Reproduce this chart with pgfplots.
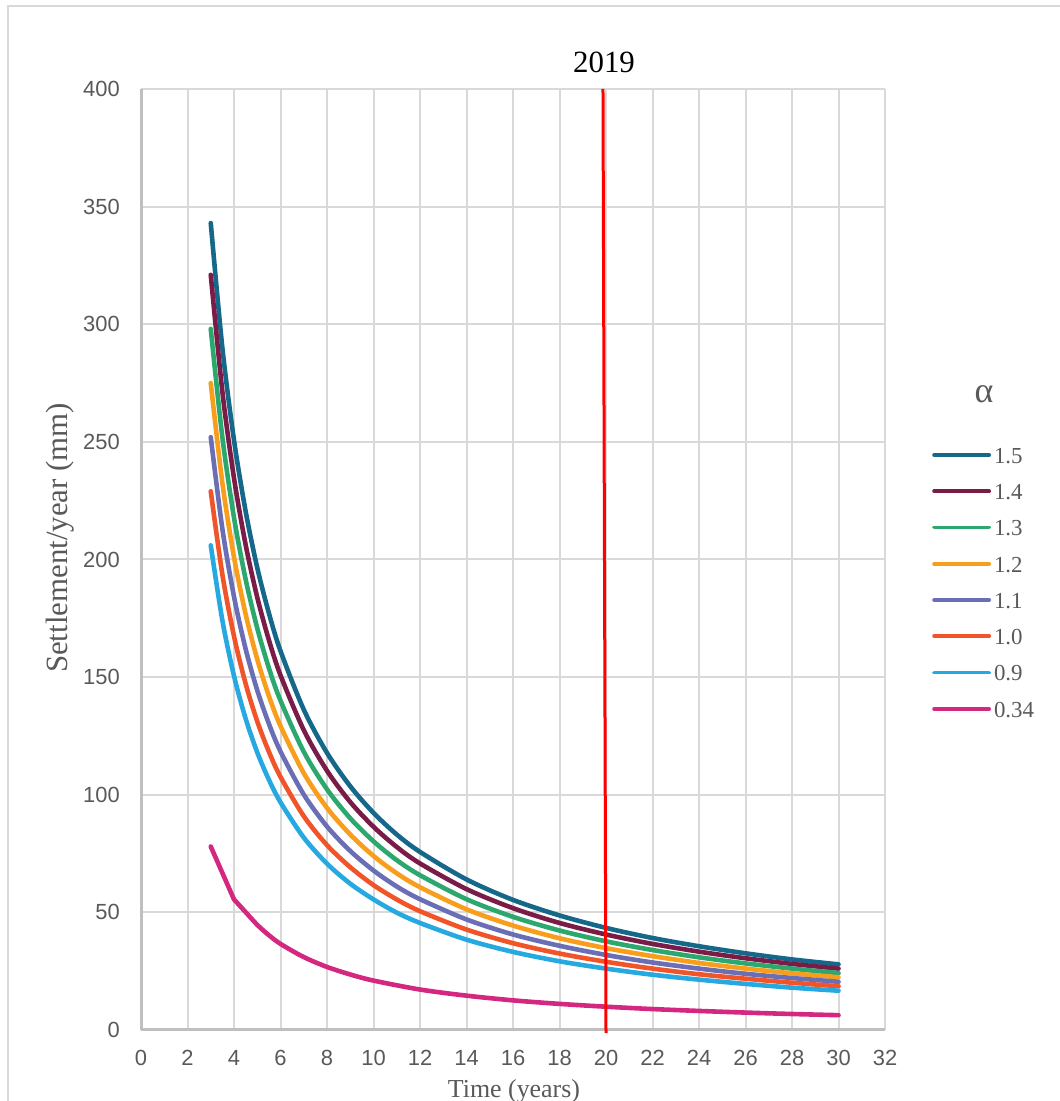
\documentclass[border=0pt]{standalone}
\usepackage{fontspec}
\setmainfont{Liberation Serif}
\newfontfamily\tickfont{Liberation Sans}
\usepackage{pgfplots}
\usepackage{pgfplotstable}
\pgfplotsset{compat=1.18}
\definecolor{cA}{RGB}{22,104,138}
\definecolor{cB}{RGB}{122,28,72}
\definecolor{cC}{RGB}{44,168,110}
\definecolor{cD}{RGB}{249,157,28}
\definecolor{cE}{RGB}{106,110,180}
\definecolor{cF}{RGB}{240,84,40}
\definecolor{cG}{RGB}{38,169,224}
\definecolor{cH}{RGB}{212,40,128}
\definecolor{tickgray}{RGB}{89,89,89}
\definecolor{gridgray}{RGB}{217,217,217}
\definecolor{axisgray}{RGB}{191,191,191}
\definecolor{framegray}{RGB}{217,217,217}

\pgfplotstableread{
t    s15   s14   s13   s12   s11   s10   s09
3    343   321   298   275   252   229   206
3.5  289.9 271.3 251.9 232.5 213.0 193.6 174.1
4    250.7 234.6 217.8 201.0 184.2 167.4 150.5
4.5  220.5 206.3 191.6 176.8 162.0 147.2 132.4
5    196.5 183.9 170.8 157.6 144.4 131.2 118.0
5.5  177.2 165.8 153.9 142.0 130.2 118.3 106.4
6    161.1 150.8 140.0 129.2 118.4 107.6 96.8
7    136.2 127.5 118.3 109.2 100.1 90.9  81.8
8    117.8 110.2 102.3 94.4  86.5  78.6  70.7
9    103.6 96.9  90.0  83.1  76.1  69.2  62.2
10   92.3  86.4  80.2  74.0  67.8  61.6  55.5
11   83.1  77.8  72.2  66.6  61.0  55.5  49.9
12   75.7  70.8  65.8  60.7  55.6  50.5  45.5
14   64.0  59.9  55.6  51.3  47.0  42.7  38.4
16   55.3  51.8  48.1  44.4  40.6  36.9  33.2
18   48.7  45.5  42.3  39.0  35.8  32.5  29.2
20   43.4  40.6  37.7  34.8  31.9  29.0  26.1
22   39.1  36.6  34.0  31.4  28.7  26.1  23.5
24   35.6  33.3  30.9  28.5  26.1  23.7  21.4
26   32.6  30.5  28.3  26.1  23.9  21.8  19.6
28   30.0  28.1  26.1  24.1  22.1  20.1  18.0
30   27.9  26.1  24.2  22.4  20.5  18.6  16.7
}\settle

\pgfplotstableread{
t    s034
4    55.5
4.5  50.1
5    44.7
5.5  40.3
6    36.6
7    31.0
8    26.8
9    23.6
10   21.0
12   17.2
14   14.6
16   12.6
18   11.1
20   9.9
22   8.9
24   8.1
26   7.4
28   6.8
30   6.3
}\settlelow

\begin{document}
\begin{tikzpicture}[x=1bp,y=1bp]
\path[use as bounding box] (0,0) rectangle (1060,1101);
\draw[framegray, line width=1.5bp] (8,0) -- (8,1095) -- (1060,1095);
\begin{axis}[
  at={(141bp,71bp)}, anchor=south west,
  scale only axis, width=744bp, height=941bp,
  xmin=0, xmax=32, ymin=0, ymax=400,
  xtick distance=2, ytick distance=50,
  grid=major,
  major grid style={draw=gridgray, line width=2bp},
  axis lines*=left,
  axis line style={-, draw=axisgray, line width=3bp},
  major tick length=0pt,
  ticklabel style={font=\tickfont\fontsize{22}{22}\selectfont, text=tickgray, inner sep=0pt},
  /pgf/number format/assume math mode=true,
  yticklabel style={xshift=-21bp},
  xticklabel style={yshift=-20bp},
  xlabel={Time (years)},
  xlabel style={at={(axis description cs:0.5013,0)}, anchor=base, yshift=-67bp,
    font=\fontsize{26}{26}\selectfont, text=tickgray, inner sep=0pt},
  ylabel={Settlement/year (mm)},
  ylabel style={at={(axis description cs:-0.1089,0.523)}, anchor=center,
    font=\fontsize{31}{31}\selectfont, text=tickgray, inner sep=0pt},
  clip=false,
  every axis plot/.append style={line width=4.6bp, line join=round, line cap=round},
  legend style={at={(1.0632,0.6185)}, anchor=north west, draw=none, fill=none,
    font=\fontsize{23}{23}\selectfont, text=tickgray, row sep=19.6bp, column sep=3bp,
    inner sep=0pt, nodes={inner sep=0pt}},
  legend cell align=left,
  legend image code/.code={\draw[#1, line width=3.8bp] (0bp,1.5bp) -- (55bp,1.5bp);},
]
\addplot[cA, smooth, tension=0.5] table[x=t, y=s15] {\settle};
\addlegendentry{1.5}
\addplot[cB, smooth, tension=0.5] table[x=t, y=s14] {\settle};
\addlegendentry{1.4}
\addplot[cC, smooth, tension=0.5] table[x=t, y=s13] {\settle};
\addlegendentry{1.3}
\addplot[cD, smooth, tension=0.5] table[x=t, y=s12] {\settle};
\addlegendentry{1.2}
\addplot[cE, smooth, tension=0.5] table[x=t, y=s11] {\settle};
\addlegendentry{1.1}
\addplot[cF, smooth, tension=0.5] table[x=t, y=s10] {\settle};
\addlegendentry{1.0}
\addplot[cG, smooth, tension=0.5] table[x=t, y=s09] {\settle};
\addlegendentry{0.9}
\addplot[cH, smooth, tension=0.5] table[x=t, y=s034] {\settlelow};
\addlegendentry{0.34}
\addplot[cH, forget plot] coordinates {(3,78) (4,55.5)};
\addplot[red, line width=3bp, line cap=butt, forget plot] coordinates {(20,-1.3) (19.87,400)};
\end{axis}
\node[anchor=base, font=\fontsize{31}{31}\selectfont, text=black] at (604,1028) {2019};
\node[font=\fontsize{36}{36}\selectfont, text=tickgray] at (984,707) {α};
\end{tikzpicture}
\end{document}
